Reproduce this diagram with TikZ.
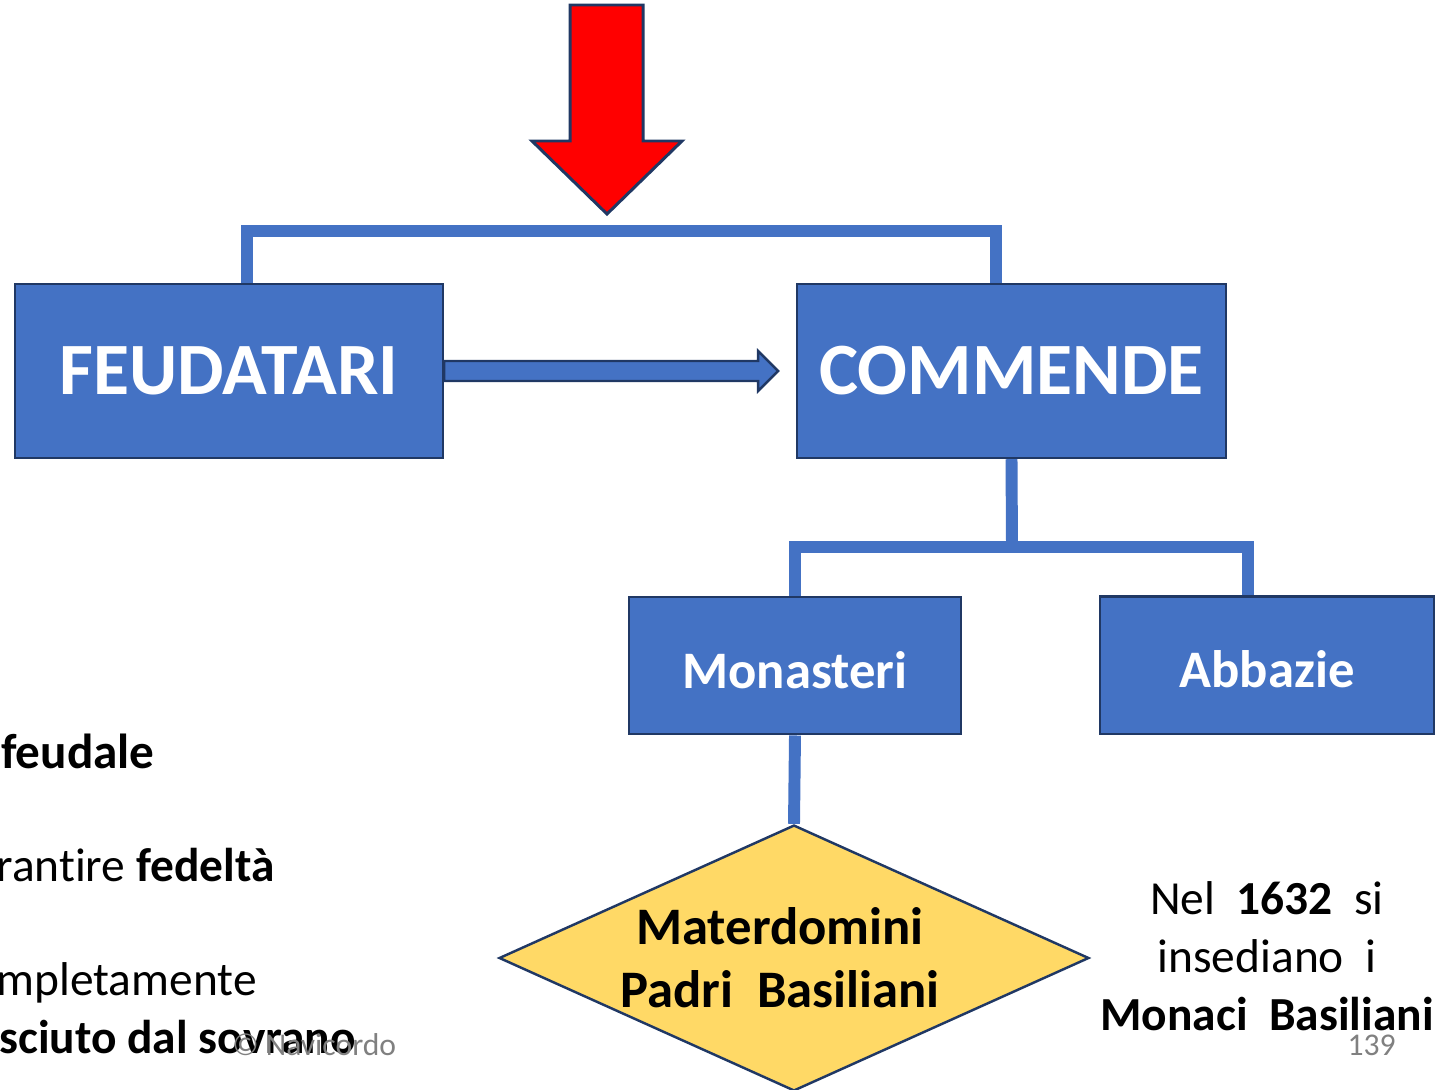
\documentclass[tikz,border=0pt]{standalone}
\usepackage{fontspec}
\setmainfont{Carlito}[Ligatures=NoCommon,Contextuals=NoAlternate]
\usetikzlibrary{calc,shapes.geometric}
\definecolor{boxblue}{HTML}{4472C4}
\definecolor{navy}{HTML}{203864}
\definecolor{gold}{HTML}{FFD966}

\begin{document}
\begin{tikzpicture}[x=0.02cm,y=-0.02cm,
    bigbox/.style={draw=navy,line width=1.4pt,fill=boxblue,text=white,inner sep=0pt,
        minimum height=3.48cm,font=\bfseries\fontsize{42}{50}\selectfont},
    smallbox/.style={draw=navy,line width=1.4pt,fill=boxblue,text=white,inner sep=0pt,
        minimum height=2.75cm,text height=0.9cm,text depth=0cm,
        font=\bfseries\fontsize{30}{36}\selectfont},
    conn/.style={draw=boxblue,line width=6.8pt},
    txt/.style={font=\fontsize{27}{33}\selectfont,inner sep=0pt},
    graytxt/.style={text=gray,font=\fontsize{18}{21}\selectfont,inner sep=0pt}]
    \clip (0,0) rectangle (1440,1089);
    \node[bigbox,minimum width=8.56cm] (feud) at (229,371) {FEUDATARI};
    \node[bigbox,minimum width=8.58cm] (comm) at (1011.5,371) {COMMENDE};
    \node[smallbox,minimum width=6.64cm] (mon) at (795,665.5) {Monasteri};
    \node[smallbox,minimum width=6.68cm] (abb) at (1267,665) {Abbazie};
    \node[diamond,draw=navy,line width=1.4pt,fill=gold,inner sep=0pt,aspect=2.22,
        minimum width=11.8cm,minimum height=5.32cm,align=center,
        font=\bfseries\fontsize{30}{36}\selectfont] (mat) at (794,958)
        {Materdomini\hspace*{0.56cm}\\Padri\ \ Basiliani\hspace*{0.56cm}};
    \coordinate (top) at (607,231);
    \coordinate (split) at (1012,547);
    \draw[conn] ([xshift=0.36cm]feud.north) |- (top) -| ([xshift=-0.31cm]comm.north);
    \draw[conn] (comm.south) -- (split);
    \draw[conn] (mon.north) |- (split) -| ([xshift=-0.38cm]abb.north);
    \draw[conn] (mon.south) -- (mat.north);
    \draw[draw=navy,line width=1.4pt,fill=boxblue] ($(feud.east)+(0,-10)$) -- ++(314,0)
        -- ++(0,-10) -- ++(20,20) -- ++(-20,20) -- ++(0,-10) -- ++(-314,0) -- cycle;
    \draw[draw=navy,line width=1.7pt,fill=red] (570,5) -- (643,5) -- (643,141) -- (682,141)
        -- (607,214) -- (532,141) -- (570,141) -- cycle;
    \node[txt,anchor=base east,font=\fontsize{28}{33}\selectfont] (t1) at (155,768) {\textbf{feudale}};
    \node[txt,anchor=base east] (t2) at (275,881) {rantire \textbf{fedeltà}};
    \node[txt,anchor=base east] (t3) at (257,995) {mpletamente};
    \node[txt,anchor=base east] (t4) at (356,1053) {\textbf{sciuto dal sovrano}};
    \node[txt,align=center] (nel) at (1267,956)
        {Nel\ \ \textbf{1632}\ \ si\\insediano\ \ i\\\textbf{Monaci\ \ Basiliani}};
    \node[graytxt,anchor=base west] (copy) at (232,1055) {© Navicordo};
    \node[graytxt,anchor=base east] (page) at (1396,1055) {139};
\end{tikzpicture}
\end{document}
